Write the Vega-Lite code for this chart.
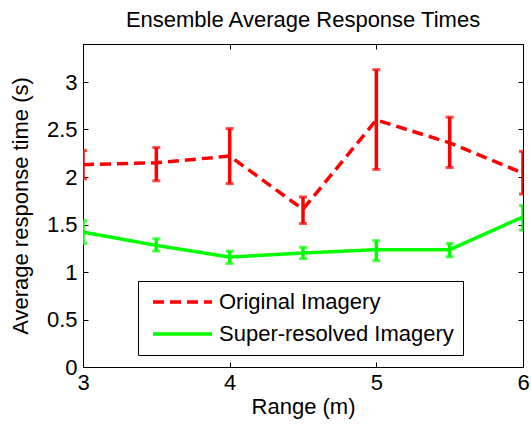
{
  "$schema": "https://vega.github.io/schema/vega-lite/v6.json",
  "width": 440,
  "height": 323,
  "autosize": {"type": "none"},
  "padding": {"left": 83, "top": 44, "right": 8, "bottom": 63},
  "background": "white",
  "title": {"text": "Ensemble Average Response Times", "font": "Liberation Sans", "fontSize": 22, "fontWeight": "normal", "color": "black", "offset": 12},
  "config": {
    "view": {"stroke": "black", "strokeWidth": 1},
    "axis": {"labelFont": "Liberation Sans", "titleFont": "Liberation Sans", "labelFontSize": 22, "titleFontSize": 22, "titleFontWeight": "normal", "labelColor": "black", "titleColor": "black", "domainColor": "black", "tickColor": "black", "grid": false, "tickSize": -5, "domainWidth": 1, "tickWidth": 1, "labelOverlap": false, "labelBound": false, "labelFlush": false, "format": "~g"},
    "legend": {"labelFont": "Liberation Sans", "labelFontSize": 22, "labelColor": "black", "labelLimit": 0}
  },
  "data": {"values": [
    {"range": 3.0, "series": "Original Imagery", "mean": 2.13, "lo": 1.98, "hi": 2.28},
    {"range": 3.5, "series": "Original Imagery", "mean": 2.15, "lo": 1.96, "hi": 2.31},
    {"range": 4.0, "series": "Original Imagery", "mean": 2.22, "lo": 1.93, "hi": 2.51},
    {"range": 4.5, "series": "Original Imagery", "mean": 1.66, "lo": 1.51, "hi": 1.79},
    {"range": 5.0, "series": "Original Imagery", "mean": 2.60, "lo": 2.08, "hi": 3.13},
    {"range": 5.5, "series": "Original Imagery", "mean": 2.36, "lo": 2.10, "hi": 2.63},
    {"range": 6.0, "series": "Original Imagery", "mean": 2.04, "lo": 1.82, "hi": 2.27},
    {"range": 3.0, "series": "Super-resolved Imagery", "mean": 1.42, "lo": 1.30, "hi": 1.54},
    {"range": 3.5, "series": "Super-resolved Imagery", "mean": 1.28, "lo": 1.22, "hi": 1.35},
    {"range": 4.0, "series": "Super-resolved Imagery", "mean": 1.157, "lo": 1.09, "hi": 1.22},
    {"range": 4.5, "series": "Super-resolved Imagery", "mean": 1.20, "lo": 1.14, "hi": 1.26},
    {"range": 5.0, "series": "Super-resolved Imagery", "mean": 1.235, "lo": 1.12, "hi": 1.33},
    {"range": 5.5, "series": "Super-resolved Imagery", "mean": 1.235, "lo": 1.16, "hi": 1.30},
    {"range": 6.0, "series": "Super-resolved Imagery", "mean": 1.58, "lo": 1.44, "hi": 1.70}
  ]},
  "layer": [
    {
      "mark": {"type": "line", "strokeWidth": 3.5, "clip": true},
      "encoding": {
        "x": {"field": "range", "type": "quantitative", "scale": {"domain": [3, 6], "nice": false}, "axis": {"title": "Range (m)", "values": [3, 4, 5, 6], "labelPadding": 10, "titlePadding": 3}},
        "y": {"field": "mean", "type": "quantitative", "scale": {"domain": [0, 3.4], "nice": false}, "axis": {"title": "Average response time (s)", "values": [0, 0.5, 1, 1.5, 2, 2.5, 3], "labelPadding": 11, "titlePadding": 14}},
        "color": {"field": "series", "type": "nominal", "scale": {"domain": ["Original Imagery", "Super-resolved Imagery"], "range": ["#ff0000", "#00ff00"]},
          "legend": {"title": null, "orient": "none", "legendX": 55, "legendY": 237, "direction": "vertical", "strokeColor": "black", "fillColor": "white", "padding": 9, "symbolType": "stroke", "symbolSize": 3481, "symbolStrokeWidth": 3.5, "labelOffset": 5, "rowPadding": 8, "symbolOffset": 4, "clipHeight": 24}},
        "strokeDash": {"field": "series", "type": "nominal", "scale": {"domain": ["Original Imagery", "Super-resolved Imagery"], "range": [[11, 6], [1, 0]]}, "legend": null}
      }
    },
    {
      "mark": {"type": "rule", "strokeWidth": 3.5, "clip": true},
      "encoding": {
        "x": {"field": "range", "type": "quantitative", "axis": null},
        "y": {"field": "lo", "type": "quantitative", "axis": null},
        "y2": {"field": "hi"},
        "color": {"field": "series", "type": "nominal", "legend": null}
      }
    },
    {
      "mark": {"type": "tick", "orient": "horizontal", "size": 8, "thickness": 3, "clip": true},
      "encoding": {
        "x": {"field": "range", "type": "quantitative", "axis": null},
        "y": {"field": "lo", "type": "quantitative", "axis": null},
        "color": {"field": "series", "type": "nominal", "legend": null}
      }
    },
    {
      "mark": {"type": "tick", "orient": "horizontal", "size": 8, "thickness": 3, "clip": true},
      "encoding": {
        "x": {"field": "range", "type": "quantitative", "axis": null},
        "y": {"field": "hi", "type": "quantitative", "axis": null},
        "color": {"field": "series", "type": "nominal", "legend": null}
      }
    },
    {
      "mark": {"type": "point", "opacity": 0},
      "encoding": {
        "x": {"field": "range", "type": "quantitative", "axis": {"orient": "top", "labels": false, "title": null, "values": [3, 4, 5, 6], "domain": false}},
        "y": {"field": "mean", "type": "quantitative", "axis": {"orient": "right", "labels": false, "title": null, "values": [0, 0.5, 1, 1.5, 2, 2.5, 3], "domain": false}}
      }
    }
  ],
  "resolve": {"axis": {"x": "independent", "y": "independent"}}
}
